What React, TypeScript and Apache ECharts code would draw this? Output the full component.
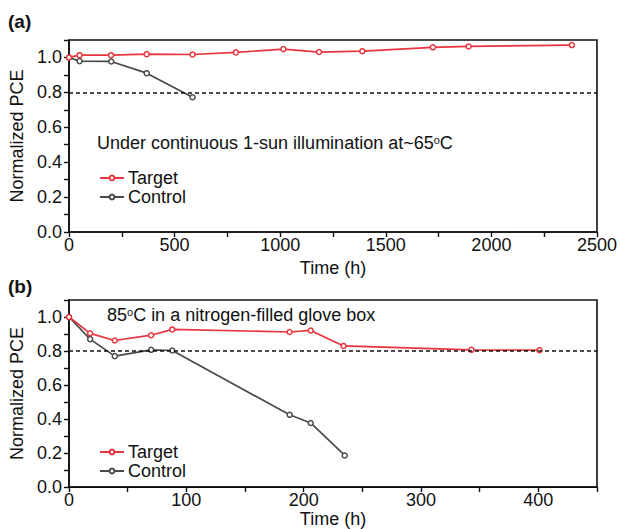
import React, { useEffect, useRef } from "react";
import * as echarts from "echarts";

// Panel (a): continuous 1-sun illumination at ~65 °C
const timeA_target = [0, 50, 199, 368, 585, 790, 1015, 1184, 1389, 1723, 1892, 2381];
const pceA_target = [1.0, 1.013, 1.013, 1.019, 1.017, 1.029, 1.048, 1.031, 1.036, 1.058, 1.063, 1.071];
const timeA_control = [0, 50, 200, 368, 585];
const pceA_control = [1.0, 0.979, 0.977, 0.91, 0.772];

// Panel (b): 85 °C in a nitrogen-filled glove box
const timeB_target = [0, 18, 39, 70, 88, 188, 206, 234, 343, 401];
const pceB_target = [1.0, 0.904, 0.862, 0.893, 0.927, 0.912, 0.921, 0.83, 0.807, 0.805];
const timeB_control = [0, 18, 39, 70, 88, 188, 206, 235];
const pceB_control = [1.0, 0.87, 0.77, 0.807, 0.803, 0.425, 0.377, 0.186];

const THRESHOLD = 0.8;
const seriesNames = ["Target", "Control"];
const colors = ["#e8343c", "#4a4a4a"];

const FONT = "Liberation Sans, Arial, sans-serif";

const zip = (xs: number[], ys: number[]) => xs.map((x, i) => [x, ys[i]]);

export default function App() {
  const ref = useRef<HTMLDivElement>(null);
  useEffect(() => {
    if (!ref.current) return;
    const chart = echarts.init(ref.current, undefined, { renderer: "svg" });

    const yAxisCommon = (gridIndex: number) => ({
      type: "value" as const,
      gridIndex,
      min: 0,
      max: 1.1,
      interval: 0.1,
      name: "Normalized PCE",
      nameLocation: "middle" as const,
      nameGap: 41,
      nameTextStyle: { fontFamily: FONT, fontSize: 18, color: "#111" },
      axisLine: { show: true, lineStyle: { color: "#111", width: 1.6 } },
      axisTick: { show: true, length: 5, lineStyle: { color: "#111", width: 1.4 } },
      axisLabel: {
        fontFamily: FONT,
        fontSize: 18,
        color: "#111",
        margin: 7,
        formatter: (v: number) => (Math.round(v * 10) % 2 === 0 ? v.toFixed(1) : ""),
      },
      splitLine: { show: false },
    });

    const xAxisCommon = (gridIndex: number, max: number, interval: number, nameGap: number) => ({
      type: "value" as const,
      gridIndex,
      min: 0,
      max,
      interval,
      name: "Time (h)",
      nameLocation: "middle" as const,
      nameGap,
      nameTextStyle: { fontFamily: FONT, fontSize: 18, color: "#111" },
      axisLine: { show: true, lineStyle: { color: "#111", width: 1.6 } },
      axisTick: { show: true, length: 5, lineStyle: { color: "#111", width: 1.4 } },
      axisLabel: {
        fontFamily: FONT,
        fontSize: 18,
        color: "#111",
        margin: 4,
        formatter: (v: number) => (Math.round(v / interval) % 2 === 0 ? String(v) : ""),
      },
      splitLine: { show: false },
    });

    const lineSeries = (name: string, color: string, data: number[][], idx: number, withMark: boolean) => ({
      type: "line" as const,
      name,
      xAxisIndex: idx,
      yAxisIndex: idx,
      data,
      symbol: "circle",
      symbolSize: 5,
      showSymbol: true,
      lineStyle: { color, width: 1.7 },
      itemStyle: { color: "#fff", borderColor: color, borderWidth: 1.5 },
      z: name === "Target" ? 3 : 2,
      markLine: withMark
        ? {
            silent: true,
            symbol: "none",
            label: { show: false },
            lineStyle: { color: "#111", type: [4, 3], width: 1.6 },
            data: [{ yAxis: THRESHOLD }],
          }
        : undefined,
    });

    const legendCommon = (top: number) => ({
      left: 94,
      top,
      orient: "vertical" as const,
      itemWidth: 24,
      itemHeight: 6,
      itemGap: 1,
      data: seriesNames,
      selectedMode: false,
      textStyle: { fontFamily: FONT, fontSize: 18, color: "#111", padding: [0, 0, 0, -1] },
    });

    chart.setOption({
      animation: false,
      backgroundColor: "#fff",
      grid: [
        { left: 69, right: 23, top: 40, bottom: 297, show: true, borderColor: "#111", borderWidth: 1.6, backgroundColor: "transparent" },
        { left: 69, right: 23, top: 300, bottom: 38, show: true, borderColor: "#111", borderWidth: 1.6, backgroundColor: "transparent" },
      ],
      xAxis: [xAxisCommon(0, 2500, 250, 27), xAxisCommon(1, 450, 50, 20)],
      yAxis: [yAxisCommon(0), yAxisCommon(1)],
      legend: [legendCommon(164), legendCommon(438)],
      series: [
        lineSeries(seriesNames[0], colors[0], zip(timeA_target, pceA_target), 0, true),
        lineSeries(seriesNames[1], colors[1], zip(timeA_control, pceA_control), 0, false),
        lineSeries(seriesNames[0], colors[0], zip(timeB_target, pceB_target), 1, true),
        lineSeries(seriesNames[1], colors[1], zip(timeB_control, pceB_control), 1, false),
      ],
      graphic: [
        {
          type: "text",
          left: 8,
          top: 12,
          style: { text: "(a)", fontFamily: FONT, fontSize: 19, fontWeight: "bold", fill: "#111" },
        },
        {
          type: "text",
          left: 8,
          top: 277,
          style: { text: "(b)", fontFamily: FONT, fontSize: 19, fontWeight: "bold", fill: "#111" },
        },
        {
          type: "text",
          left: 97,
          top: 134,
          style: {
            text: "Under continuous 1-sun illumination at~65{sup|o}C",
            fontFamily: FONT,
            fontSize: 18,
            fill: "#111",
            rich: { sup: { fontFamily: FONT, fontSize: 11, verticalAlign: "top", fill: "#111" } },
          },
        },
        {
          type: "text",
          left: 107,
          top: 306,
          style: {
            text: "85{sup|o}C in a nitrogen-filled glove box",
            fontFamily: FONT,
            fontSize: 18,
            fill: "#111",
            rich: { sup: { fontFamily: FONT, fontSize: 11, verticalAlign: "top", fill: "#111" } },
          },
        },
      ],
    });
    return () => chart.dispose();
  }, []);

  return (
    <div
      ref={ref}
      style={{ position: "absolute", left: 0, top: 0, width: 620, height: 529 }}
    />
  );
}
